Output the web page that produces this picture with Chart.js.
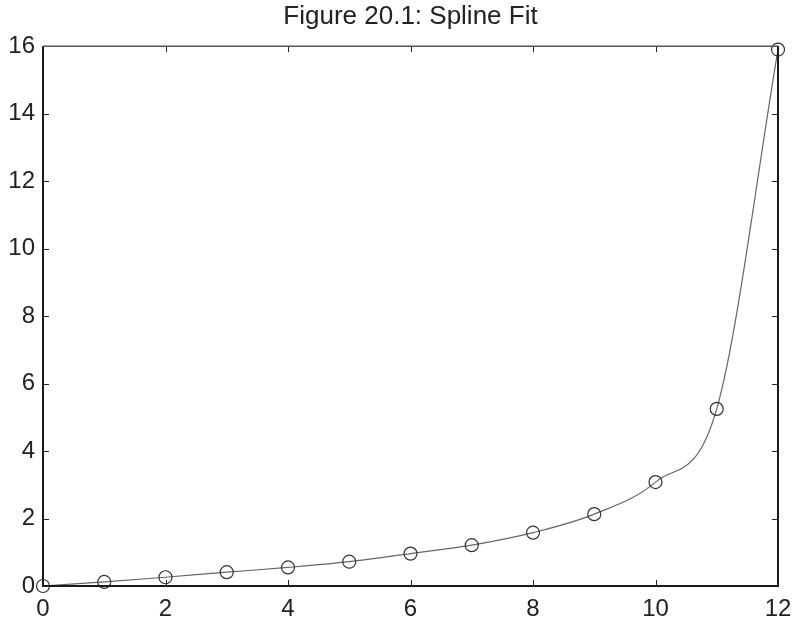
<!DOCTYPE html>
<html>
<head>
<meta charset="utf-8">
<script src="https://cdn.jsdelivr.net/npm/chart.js@4/dist/chart.umd.min.js"></script>
<style>
  html, body { margin: 0; padding: 0; background: #fff; }
  #wrap { width: 794px; height: 622px; }
</style>
</head>
<body>
<div id="wrap"><canvas id="myChart" width="794" height="622"></canvas></div>
<script>
// data
var xVals = [0, 1, 2, 3, 4, 5, 6, 7, 8, 9, 10, 11, 12];
var yVals = [0, 0.12, 0.26, 0.41, 0.55, 0.72, 0.96, 1.21, 1.58, 2.13, 3.08, 5.25, 15.9];
var xTicks = [0, 2, 4, 6, 8, 10, 12];
var yTicks = [0, 2, 4, 6, 8, 10, 12, 14, 16];
var titleText = 'Figure 20.1: Spline Fit';

var fontName = '"Liberation Sans", Arial, Helvetica, sans-serif';

// box round the plot with ticks pointing inward, matlab style
var boxPlugin = {
    id: 'box',
    afterDraw: function (chart) {
        let ctx = chart.ctx;
        let a = chart.chartArea;
        let xs = chart.scales.x;
        let ys = chart.scales.y;
        let len = 6;
        ctx.save();
        ctx.strokeStyle = '#222';
        ctx.lineWidth = 1;
        ctx.beginPath();
        for (let i = 0; i < xTicks.length; i++) {
            let px = Math.round(xs.getPixelForValue(xTicks[i])) + 0.5;
            ctx.moveTo(px, a.bottom); ctx.lineTo(px, a.bottom - len);
            ctx.moveTo(px, a.top); ctx.lineTo(px, a.top + len);
        }
        for (let i = 0; i < yTicks.length; i++) {
            let py = Math.round(ys.getPixelForValue(yTicks[i])) + 0.5;
            ctx.moveTo(a.left, py); ctx.lineTo(a.left + len, py);
            ctx.moveTo(a.right, py); ctx.lineTo(a.right - len, py);
        }
        ctx.stroke();

        ctx.lineWidth = 1.5;
        ctx.strokeStyle = '#555';
        ctx.beginPath();
        ctx.moveTo(a.left, a.top); ctx.lineTo(a.right, a.top);
        ctx.stroke();
        ctx.strokeStyle = '#1a1a1a';
        ctx.lineWidth = 2;
        ctx.beginPath();
        ctx.moveTo(a.left, a.top); ctx.lineTo(a.left, a.bottom);
        ctx.lineTo(a.right, a.bottom); ctx.lineTo(a.right, a.top);
        ctx.stroke();
        ctx.restore();
    }
};

let points = [];
for (let i = 0; i < xVals.length; i++) {
    points.push({ x: xVals[i], y: yVals[i] });
}

let ctx = document.getElementById('myChart').getContext('2d');
let chart = new Chart(ctx, {
    type: 'line',
    data: {
        datasets: [{
            data: points,
            borderColor: '#666',
            borderWidth: 1.2,
            cubicInterpolationMode: 'monotone',
            pointRadius: 6.5,
            pointBorderWidth: 1.2,
            pointBorderColor: '#333',
            pointBackgroundColor: 'rgba(0,0,0,0)',
            fill: false,
            clip: false
        }]
    },
    options: {
        responsive: false,
        animation: false,
        layout: { padding: { left: 0, right: 16, top: 0, bottom: 0 } },
        plugins: {
            legend: { display: false },
            tooltip: { enabled: false },
            title: {
                display: true,
                fullSize: false,
                text: titleText,
                color: '#222',
                font: { family: fontName, size: 26, weight: 'normal' },
                padding: { top: 1, bottom: 14 }
            }
        },
        scales: {
            x: {
                type: 'linear',
                min: 0,
                max: 12,
                grid: { display: false, drawTicks: false },
                border: { display: false },
                afterBuildTicks: function (s) { s.ticks = xTicks.map(function (v) { return { value: v }; }); },
                afterFit: function (s) {
                    s.height = 36;
                    s.paddingLeft = 0;
                    s.paddingRight = 0;
                },
                ticks: {
                    color: '#222',
                    padding: 9,
                    maxRotation: 0,
                    font: { family: fontName, size: 24 }
                }
            },
            y: {
                type: 'linear',
                min: 0,
                max: 16,
                grid: { display: false, drawTicks: false },
                border: { display: false },
                afterBuildTicks: function (s) { s.ticks = yTicks.map(function (v) { return { value: v }; }); },
                afterFit: function (s) {
                    s.width = 43;
                    s.paddingTop = 0;
                    s.paddingBottom = 0;
                },
                ticks: {
                    color: '#222',
                    padding: 8,
                    font: { family: fontName, size: 24 }
                }
            }
        }
    },
    plugins: [boxPlugin]
});
</script>
</body>
</html>
